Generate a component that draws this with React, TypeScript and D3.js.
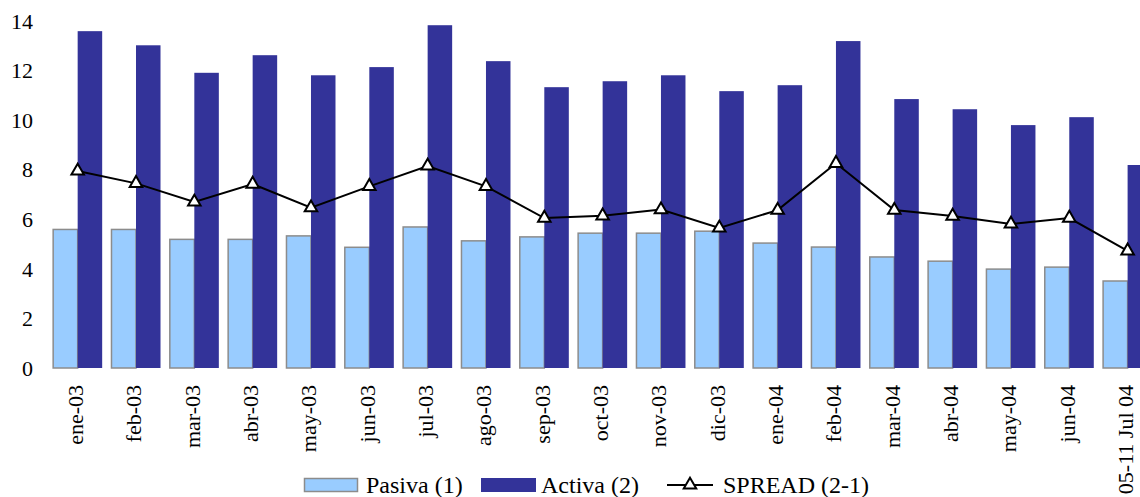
import React, { useEffect, useRef } from "react";
import * as d3 from "d3";

const categories = [
  "ene-03", "feb-03", "mar-03", "abr-03", "may-03", "jun-03", "jul-03",
  "ago-03", "sep-03", "oct-03", "nov-03", "dic-03", "ene-04", "feb-04",
  "mar-04", "abr-04", "may-04", "jun-04", "05-11 Jul 04",
];
const pasiva = [5.59, 5.59, 5.19, 5.19, 5.33, 4.87, 5.69, 5.13, 5.29, 5.44, 5.44, 5.52, 5.04, 4.88, 4.48, 4.31, 3.99, 4.07, 3.51];
const activa = [13.59, 13.02, 11.91, 12.62, 11.81, 12.14, 13.83, 12.38, 11.33, 11.57, 11.81, 11.17, 11.41, 13.19, 10.85, 10.44, 9.8, 10.12, 8.19];
const spread = [7.95, 7.45, 6.7, 7.42, 6.47, 7.33, 8.15, 7.33, 6.05, 6.14, 6.39, 5.65, 6.37, 8.26, 6.37, 6.13, 5.81, 6.05, 4.73];
const yTicks = [0, 2, 4, 6, 8, 10, 12, 14];

const FONT = "'Times New Roman', Times, 'Liberation Serif', 'DejaVu Serif', serif";
const LIGHT = "#99CCFF";
const DARK = "#333399";

export default function App() {
  const ref = useRef<SVGSVGElement | null>(null);

  useEffect(() => {
    const svg = d3.select(ref.current);
    svg.selectAll("*").remove();

    const width = 1140;
    const height = 497;
    const plotLeft = 48.5;
    const step = 58.33;

    const x = d3.scaleBand()
      .domain(categories)
      .range([plotLeft, plotLeft + step * categories.length])
      .padding(0);

    const sub = d3.scaleBand()
      .domain(["Pasiva", "Activa"])
      .range([0, x.bandwidth()])
      .paddingInner(0)
      .paddingOuter(0.19);

    const y = d3.scaleLinear().domain([0, 14]).range([368, 21]);

    svg.attr("width", width).attr("height", height);

    // y tick labels
    svg.append("g")
      .selectAll("text")
      .data(yTicks)
      .join("text")
      .attr("x", 33)
      .attr("y", (d) => y(d))
      .attr("dy", "0.35em")
      .attr("text-anchor", "end")
      .style("font-family", FONT)
      .attr("font-size", 22)
      .attr("fill", "#000")
      .text((d) => d);

    const groups = svg.append("g")
      .selectAll("g")
      .data(categories)
      .join("g")
      .attr("transform", (d) => `translate(${x(d)},0)`);

    groups.append("rect")
      .attr("x", sub("Pasiva")!)
      .attr("y", (d, i) => y(pasiva[i]))
      .attr("width", sub.bandwidth())
      .attr("height", (d, i) => y(0) - y(pasiva[i]))
      .attr("fill", LIGHT)
      .attr("stroke", "#8c8c8c")
      .attr("stroke-width", 1.5);

    groups.append("rect")
      .attr("x", sub("Activa")!)
      .attr("y", (d, i) => y(activa[i]))
      .attr("width", sub.bandwidth())
      .attr("height", (d, i) => y(0) - y(activa[i]))
      .attr("fill", DARK);

    // spread line
    const cx = (i: number) => x(categories[i])! + x.bandwidth() / 2;
    const line = d3.line<number>()
      .x((d, i) => cx(i))
      .y((d) => y(d));

    svg.append("path")
      .datum(spread)
      .attr("d", line)
      .attr("fill", "none")
      .attr("stroke", "#000")
      .attr("stroke-width", 2);

    const tri = d3.symbol().type(d3.symbolTriangle).size(68);
    svg.append("g")
      .selectAll("path")
      .data(spread)
      .join("path")
      .attr("d", tri)
      .attr("transform", (d, i) => `translate(${cx(i)},${y(d)})`)
      .attr("fill", "#fff")
      .attr("stroke", "#000")
      .attr("stroke-width", 2);

    // x labels
    svg.append("g")
      .selectAll("text")
      .data(categories)
      .join("text")
      .attr("transform", (d) => `translate(${x(d)! + x.bandwidth() / 2},385) rotate(-90)`)
      .attr("dy", "0.25em")
      .attr("text-anchor", "end")
      .style("font-family", FONT)
      .attr("font-size", 22)
      .attr("fill", "#000")
      .text((d) => d);

    // legend
    const lg = svg.append("g").style("font-family", FONT).attr("font-size", 24);
    lg.append("rect")
      .attr("x", 304.5).attr("y", 478.5).attr("width", 53).attr("height", 13)
      .attr("fill", LIGHT).attr("stroke", "#8c8c8c").attr("stroke-width", 1.5);
    lg.append("text").attr("x", 366).attr("y", 493).text("Pasiva (1)");
    lg.append("rect")
      .attr("x", 481).attr("y", 478).attr("width", 55).attr("height", 14)
      .attr("fill", DARK);
    lg.append("text").attr("x", 541).attr("y", 493).text("Activa (2)");
    lg.append("line")
      .attr("x1", 667).attr("x2", 713).attr("y1", 485).attr("y2", 485)
      .attr("stroke", "#000").attr("stroke-width", 2);
    lg.append("path")
      .attr("d", tri)
      .attr("transform", "translate(690,485)")
      .attr("fill", "#fff").attr("stroke", "#000").attr("stroke-width", 2);
    lg.append("text").attr("x", 723).attr("y", 493).text("SPREAD (2-1)");
  }, []);

  return (
    <svg
      ref={ref}
      style={{ position: "absolute", left: 0, top: 0, background: "#fff" }}
    />
  );
}
